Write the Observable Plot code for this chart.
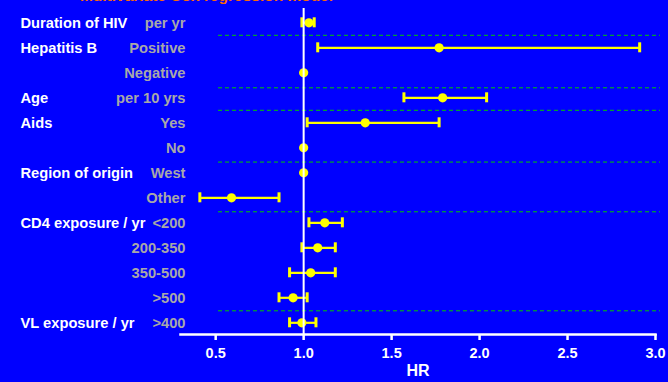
<!DOCTYPE html>
<html>
<head>
<meta charset="utf-8">
<script src="https://cdn.jsdelivr.net/npm/d3@7"></script>
<script src="https://cdn.jsdelivr.net/npm/@observablehq/plot@0.6"></script>
<style>
  html, body { margin: 0; padding: 0; background: #0000FF; }
  #chart { width: 668px; height: 382px; overflow: hidden; }
  svg { display: block; }
</style>
</head>
<body>
<div id="chart"></div>
<script>
const title = "Multivariate Cox regression model";
const groups = ["Duration of HIV", "Hepatitis B", "", "Age", "Aids", "", "Region of origin", "", "CD4 exposure / yr", "", "", "", "VL exposure / yr"];
const levels = ["per yr", "Positive", "Negative", "per 10 yrs", "Yes", "No", "West", "Other", "<200", "200-350", "350-500", ">500", ">400"];
const hr    = [1.03, 1.77, 1.00, 1.79, 1.35, 1.00, 1.00, 0.59, 1.12, 1.08, 1.04, 0.94, 0.99];
const lower = [0.99, 1.08, null, 1.57, 1.02, null, null, 0.41, 1.03, 0.99, 0.92, 0.86, 0.92];
const upper = [1.06, 2.91, null, 2.04, 1.77, null, null, 0.86, 1.22, 1.18, 1.18, 1.02, 1.07];
const separators = [1.5, 3.6, 4.5, 6.57, 8.56, 12.52];
const xTicks = [0.5, 1.0, 1.5, 2.0, 2.5, 3.0];
const xLabel = "HR";

const rows = levels.map((lv, i) => ({
  row: i + 1, group: groups[i], level: lv, hr: hr[i], lo: lower[i], hi: upper[i]
}));
const ciRows = rows.filter(d => d.lo != null);

const font = "'Liberation Sans', Arial, Helvetica, sans-serif";

const chart = Plot.plot({
  width: 668,
  height: 382,
  marginLeft: 180,
  marginRight: 13,
  marginTop: 8,
  marginBottom: 48,
  style: { background: "#0000FF", fontFamily: font, overflow: "visible" },
  x: { domain: [0.3, 3.0], axis: null },
  y: { domain: [1, 13], range: [22.3, 322.3], axis: null },
  marks: [
    Plot.ruleY(separators, { x1: 0.516, x2: 3.028, stroke: "#00C800", strokeWidth: 1, strokeDasharray: "4,3" }),
    Plot.ruleY(ciRows, { y: "row", x1: "lo", x2: "hi", stroke: "#FFFF00", strokeWidth: 2.2 }),
    Plot.ruleX(ciRows, { x: "lo", y1: d => d.row - 0.2, y2: d => d.row + 0.2, stroke: "#FFFF00", strokeWidth: 3 }),
    Plot.ruleX(ciRows, { x: "hi", y1: d => d.row - 0.2, y2: d => d.row + 0.2, stroke: "#FFFF00", strokeWidth: 3 }),
    Plot.dot(rows, { x: "hr", y: "row", r: 4.6, fill: "#FFFF00", stroke: "none" }),
    Plot.ruleX([1], { stroke: "white", strokeWidth: 2 }),
    Plot.frame({ anchor: "bottom", stroke: "white", strokeWidth: 2.5 }),
    Plot.axisX({
      ticks: xTicks, tickFormat: d => d.toFixed(1), color: "white",
      tickSize: 6, tickPadding: 7, fontSize: 14.5, fontWeight: "bold", label: null, strokeWidth: 2.5
    }),
    Plot.text([xLabel], { frameAnchor: "bottom", dy: 41, fill: "white", fontSize: 16, fontWeight: "bold" }),
    Plot.text(rows.filter(d => d.group), {
      y: "row", text: "group", frameAnchor: "left", dx: -160, textAnchor: "start",
      fill: "white", fontSize: 14.7, fontWeight: "bold"
    }),
    Plot.text(rows, {
      y: "row", text: "level", frameAnchor: "left", dx: 5, textAnchor: "end",
      fill: "#A8A8A8", fontSize: 14.7, fontWeight: "bold"
    }),
    Plot.text([title], {
      frameAnchor: "top-left", dx: 26, dy: -8, lineAnchor: "bottom", textAnchor: "middle",
      fill: "#FF6A00", fontSize: 15.5, fontWeight: "bold"
    })
  ]
});
document.getElementById("chart").appendChild(chart);
</script>
</body>
</html>
